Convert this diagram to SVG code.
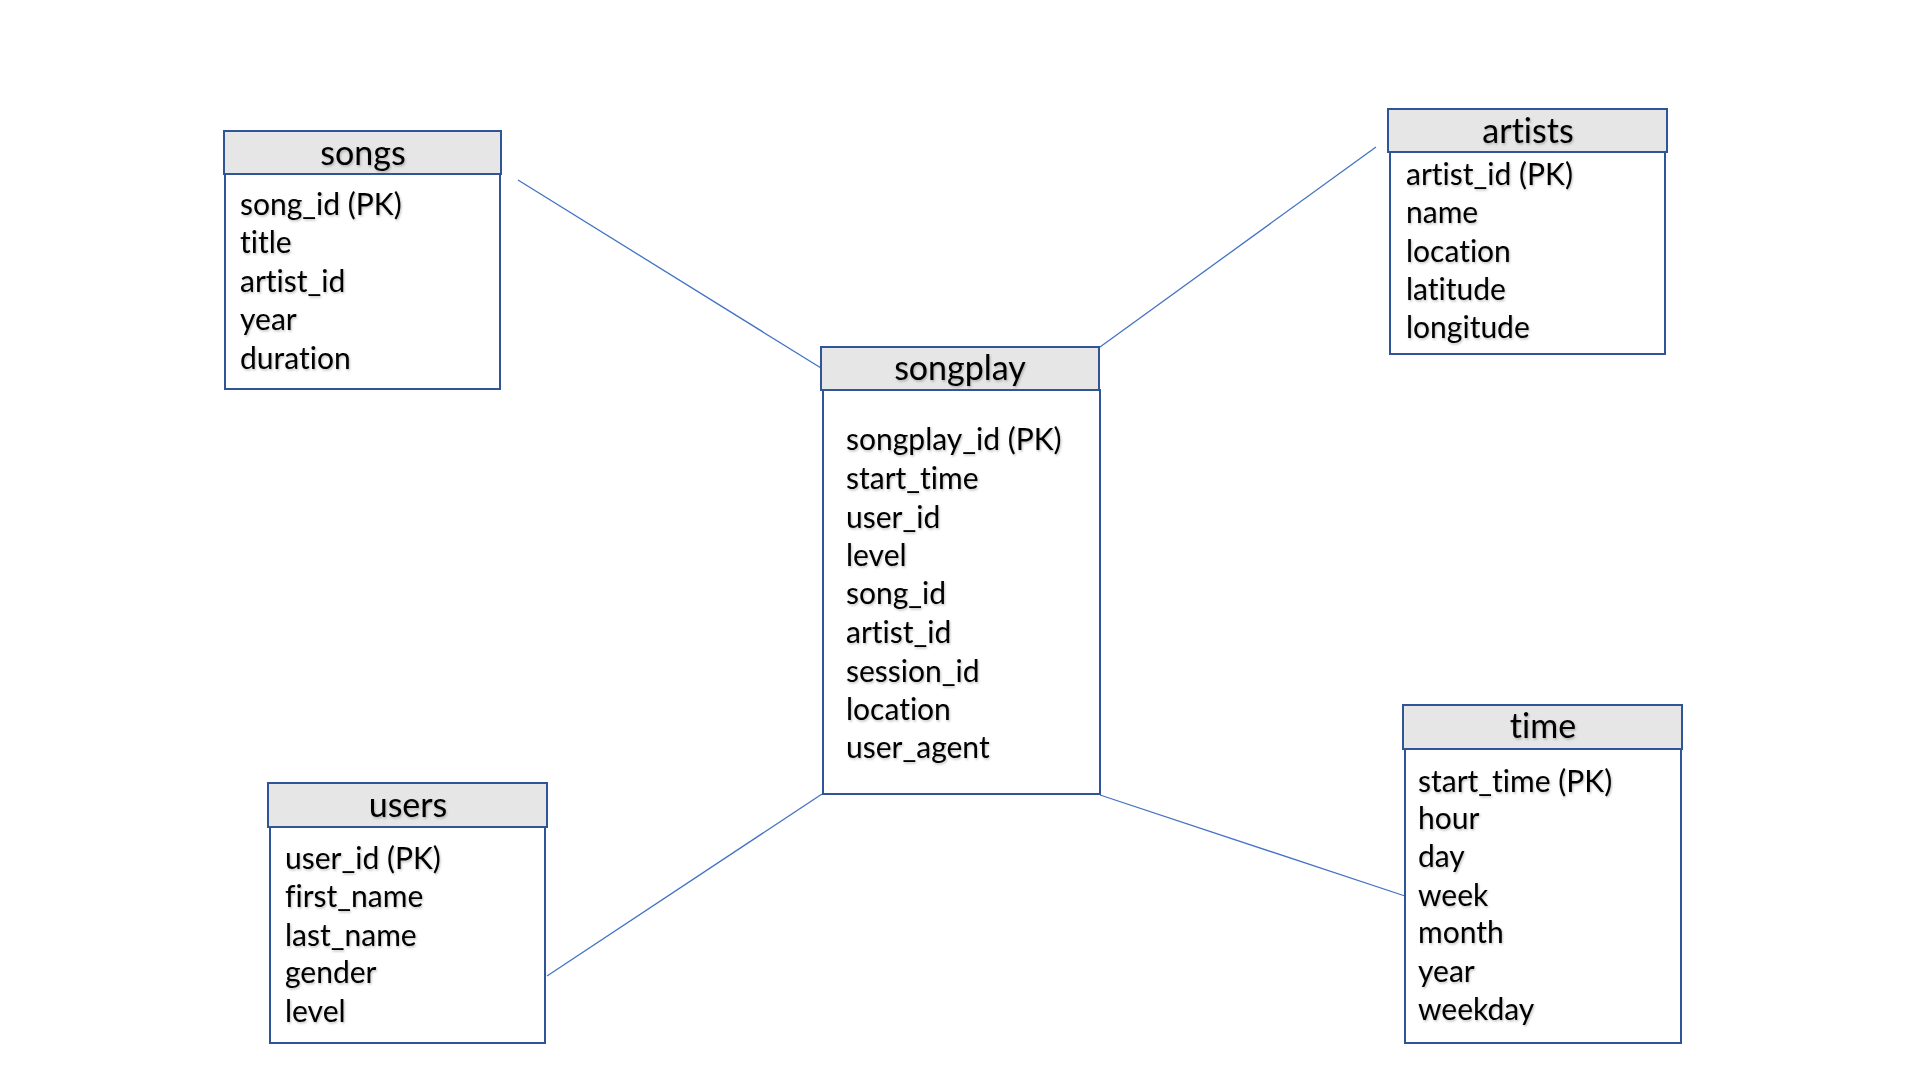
<svg xmlns="http://www.w3.org/2000/svg" width="1920" height="1080" viewBox="0 0 1920 1080">
<defs>
<filter id="sh" x="-10%" y="-10%" width="120%" height="130%">
<feDropShadow dx="1" dy="1.5" stdDeviation="0.8" flood-color="#000" flood-opacity="0.25"/>
</filter>
</defs>
<style>
.hdr{fill:#E7E6E6;stroke:#2F5597;stroke-width:2}
.body{fill:#FFFFFF;stroke:#2F5597;stroke-width:2}
.title{font-family:Lato,"Liberation Sans",sans-serif;font-size:34px;fill:#000;text-anchor:middle;font-variant-ligatures:none}
.fld{font-family:Lato,"Liberation Sans",sans-serif;font-size:30px;fill:#000;font-variant-ligatures:none}
.conn{stroke:#4472C4;stroke-width:1.3;fill:none}
</style>
<rect width="1920" height="1080" fill="#FFFFFF"/>
<g id="connectors">
<line class="conn" x1="518" y1="180" x2="821" y2="368"/>
<line class="conn" x1="1100" y1="347" x2="1376" y2="147"/>
<line class="conn" x1="547" y1="976" x2="822" y2="794"/>
<line class="conn" x1="1100" y1="795" x2="1405" y2="896"/>
</g>
<g id="songs">
<rect class="body" x="225" y="174" width="275" height="215"/>
<rect class="hdr" x="224" y="131" width="277" height="43"/>
<g filter="url(#sh)">
<text class="title" x="363" y="165">songs</text>
<text class="fld" x="240" y="215">song_id (PK)</text>
<text class="fld" x="240" y="253">title</text>
<text class="fld" x="240" y="292">artist_id</text>
<text class="fld" x="240" y="330">year</text>
<text class="fld" x="240" y="369">duration</text>
</g>
</g>
<g id="songplay">
<rect class="body" x="823" y="390" width="277" height="404"/>
<rect class="hdr" x="821" y="347" width="278" height="43"/>
<g filter="url(#sh)">
<text class="title" x="960" y="380">songplay</text>
<text class="fld" x="846" y="450">songplay_id (PK)</text>
<text class="fld" x="846" y="489">start_time</text>
<text class="fld" x="846" y="528">user_id</text>
<text class="fld" x="846" y="566">level</text>
<text class="fld" x="846" y="604">song_id</text>
<text class="fld" x="846" y="643">artist_id</text>
<text class="fld" x="846" y="682">session_id</text>
<text class="fld" x="846" y="720">location</text>
<text class="fld" x="846" y="758">user_agent</text>
</g>
</g>
<g id="artists">
<rect class="body" x="1390" y="152" width="275" height="202"/>
<rect class="hdr" x="1388" y="109" width="279" height="43"/>
<g filter="url(#sh)">
<text class="title" x="1528" y="143">artists</text>
<text class="fld" x="1406" y="185">artist_id (PK)</text>
<text class="fld" x="1406" y="223">name</text>
<text class="fld" x="1406" y="262">location</text>
<text class="fld" x="1406" y="300">latitude</text>
<text class="fld" x="1406" y="338">longitude</text>
</g>
</g>
<g id="users">
<rect class="body" x="270" y="827" width="275" height="216"/>
<rect class="hdr" x="268" y="783" width="279" height="44"/>
<g filter="url(#sh)">
<text class="title" x="408" y="817">users</text>
<text class="fld" x="285" y="869">user_id (PK)</text>
<text class="fld" x="285" y="907">first_name</text>
<text class="fld" x="285" y="946">last_name</text>
<text class="fld" x="285" y="983">gender</text>
<text class="fld" x="285" y="1022">level</text>
</g>
</g>
<g id="time">
<rect class="body" x="1405" y="749" width="276" height="294"/>
<rect class="hdr" x="1403" y="705" width="279" height="44"/>
<g filter="url(#sh)">
<text class="title" x="1543" y="738">time</text>
<text class="fld" x="1418" y="792">start_time (PK)</text>
<text class="fld" x="1418" y="829">hour</text>
<text class="fld" x="1418" y="867">day</text>
<text class="fld" x="1418" y="906">week</text>
<text class="fld" x="1418" y="943">month</text>
<text class="fld" x="1418" y="982">year</text>
<text class="fld" x="1418" y="1020">weekday</text>
</g>
</g>
</svg>
